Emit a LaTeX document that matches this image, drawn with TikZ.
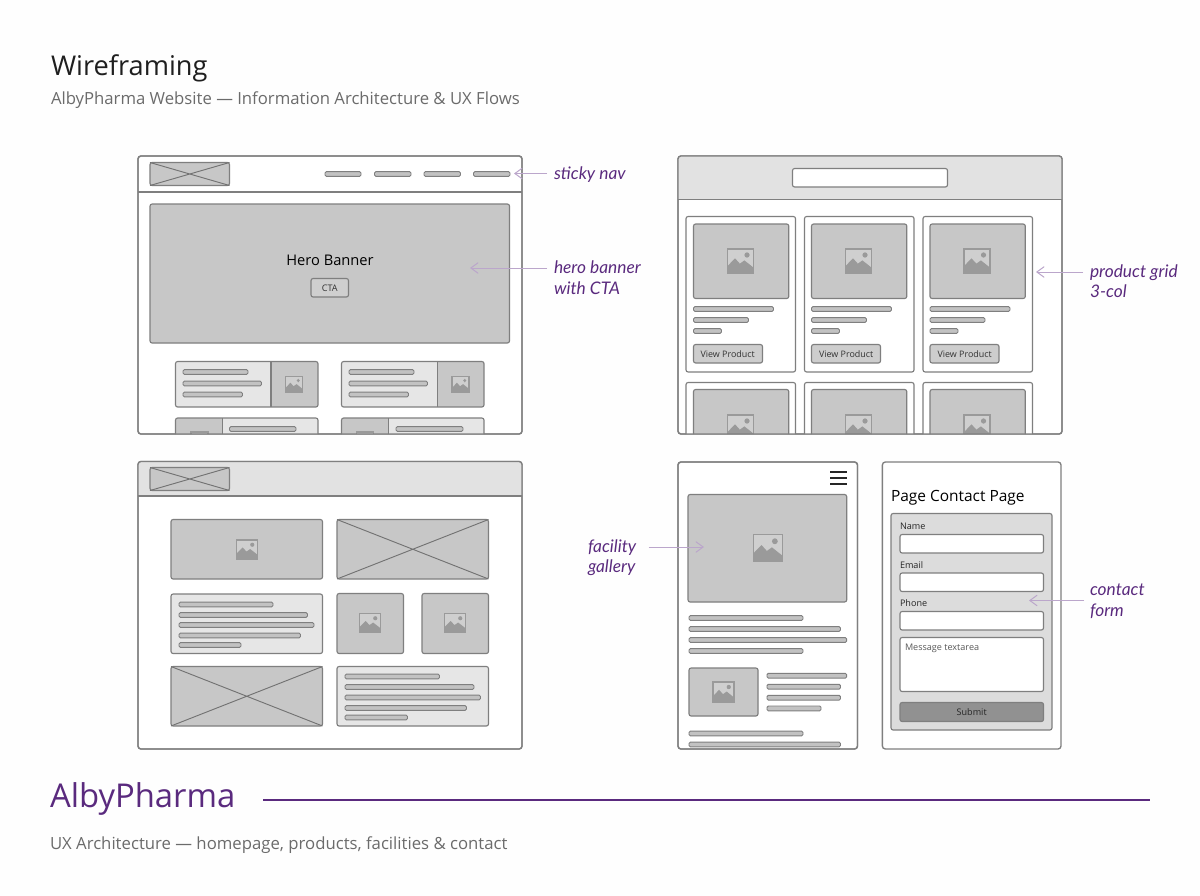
\documentclass[tikz,border=0pt]{standalone}
\usepackage{fontspec}
\setmainfont{Open Sans}
\newfontfamily\handfont{Lato}[ItalicFont=* Italic]
\usetikzlibrary{arrows.meta}
\definecolor{edgec}{HTML}{7F7F7F}
\definecolor{boxc}{HTML}{C7C7C7}
\definecolor{headc}{HTML}{E2E2E2}
\definecolor{cardc}{HTML}{E6E6E6}
\definecolor{formc}{HTML}{DCDCDC}
\definecolor{barc}{HTML}{C2C2C2}
\definecolor{iconc}{HTML}{9A9A9A}
\definecolor{purp}{HTML}{5A2A7E}
\definecolor{arrowc}{HTML}{BBA6CB}
\tikzset{
 frame/.style={draw=edgec,line width=1pt,rounded corners=2.2pt},
 imgbox/.style={draw=edgec,line width=.85pt,fill=boxc,rounded corners=1.6pt},
 headbox/.style={draw=edgec,line width=.85pt,fill=headc},
 cardbox/.style={draw=edgec,line width=.85pt,fill=cardc,rounded corners=1.6pt},
 plainbox/.style={draw=edgec,line width=.85pt,fill=white,rounded corners=1.6pt},
 barbox/.style={draw=edgec,line width=.7pt,fill=barc,rounded corners=1pt},
 xline/.style={draw=edgec!90!black,line width=.7pt},
 txt/.style={inner sep=0pt,outer sep=0pt,anchor=base west,text=#1},
 txt/.default=black,
 ctr/.style={inner sep=0pt,outer sep=0pt,anchor=base,text=#1},
 ctr/.default=black,
 note/.style={inner sep=0pt,outer sep=0pt,anchor=base west,text=purp,font=\handfont\itshape\fontsize{13}{13}\selectfont},
 pointer/.style={draw=arrowc,line width=.75pt,-{Straight Barb[length=5.5pt,width=8pt,line width=.75pt]}},
}
\newcommand\wbar[3]{\path[barbox] (#1,#3-2.4) rectangle (#2,#3+2.4);}
\newcommand\xbox[4]{\path[imgbox] (#1,#2) rectangle (#3,#4);
 \draw[xline] (#1,#2) -- (#3,#4) (#1,#4) -- (#3,#2);}
% card split in two by a straight divider: x1 y1 x2 y2, grey part from x5 to x6, divider at x7
\newcommand\splitcard[7]{%
 \begin{scope}
 \clip[rounded corners=1.6pt] (#1,#2) rectangle (#3,#4);
 \fill[cardc] (#1,#2) rectangle (#3,#4);
 \fill[boxc] (#5,#2) rectangle (#6,#4);
 \end{scope}
 \path[draw=edgec,line width=.85pt,rounded corners=1.6pt] (#1,#2) rectangle (#3,#4);
 \draw[edgec,line width=.85pt] (#7,#2) -- (#7,#4);}
\newcommand\imgicon[4]{%
 \begin{scope}[shift={(#1,#2)},x=#3*0.75pt/2,y=-#4*0.75pt/2]
 \fill[fill=white!15!boxc,draw=iconc,line width=.8pt] (-1,-1) rectangle (1,1);
 \fill[iconc] (-1,1) -- (-1,.42) -- (-.42,-.22) -- (-.05,.22) -- (.3,-.05) -- (1,.55) -- (1,1) -- cycle;
 \fill[iconc] (.5,-.5) circle[x radius=.2,y radius=.22];
 \end{scope}}
\begin{document}
\begin{tikzpicture}[x=0.75pt,y=-0.75pt]
\useasboundingbox (0,0) rectangle (1200,896);
\fill[white!99.5!black] (0,0) rectangle (1200,896);

% titles
\node[txt=black!88,font=\fontsize{20.4}{20.4}\selectfont] (title) at (51,75) {Wireframing};
\node[txt=black!58,font=\fontsize{12.53}{12.53}\selectfont] (subtitle) at (51,104) {AlbyPharma Website — Information Architecture \& UX Flows};

% ---------- frame 1
\path[frame,fill=white] (138,156) rectangle (522,434);
\begin{scope}
\clip[rounded corners=2.2pt] (138,156) rectangle (522,434);
\draw[edgec,line width=1pt] (138,192) -- (522,192);
\xbox{150}{162.5}{229.5}{185.5}
\wbar{325}{361}{174}
\wbar{374.5}{411}{174}
\wbar{424}{460.5}{174}
\wbar{473.5}{510}{174}
\path[imgbox] (150,204) rectangle (509.5,343);
\path[imgbox,fill=boxc!85!white] (311,278.5) rectangle (348.5,297);
% cards row 1
\splitcard{175.5}{361.5}{318}{407}{271}{318}{271}
\wbar{183}{248}{372}\wbar{183}{261.5}{383.5}\wbar{183}{242.5}{394.5}
\imgicon{294}{384.5}{17}{16}
\splitcard{341.5}{361.5}{484}{407}{437.5}{484}{437.5}
\wbar{349}{414}{372}\wbar{349}{427.5}{383.5}\wbar{349}{408.5}{394.5}
\imgicon{460.5}{384.5}{17}{16}
% cards row 2
\splitcard{175.5}{418}{318}{450}{175.5}{222.5}{222.5}
\wbar{229.5}{296}{429}
\imgicon{199.5}{440}{17}{16}
\splitcard{341.5}{418}{484}{450}{341.5}{388.5}{388.5}
\wbar{396}{463}{429}
\imgicon{365}{440}{17}{16}
\end{scope}
\path[frame] (138,156) rectangle (522,434);
\node[ctr,font=\fontsize{11}{11}\selectfont] (hero) at (330,265) {Hero Banner};
\node[ctr=black!80,font=\fontsize{6.8}{6.8}\selectfont] (cta) at (329.7,291.2) {CTA};

% ---------- frame 2
\path[frame,fill=white] (678,156) rectangle (1062,434);
\begin{scope}
\clip[rounded corners=2.2pt] (678,156) rectangle (1062,434);
\path[headbox] (670,150) rectangle (1070,199.5);
\path[plainbox] (792.5,168.5) rectangle (947.5,187);
\foreach \cx/\ix in {686/693.5,804.5/811.5,923/930}{
 \path[plainbox] (\cx,216.5) rectangle (\cx+109.5,372);
 \path[imgbox] (\ix,224) rectangle (\ix+95.3,298.5);
 \imgicon{\ix+47}{261}{26}{24}
 \wbar{\ix}{\ix+80}{309}
 \wbar{\ix}{\ix+55}{320}
 \wbar{\ix}{\ix+28}{331}
 \path[imgbox,fill=boxc!90!white] (\ix,344.5) rectangle (\ix+69,363);
 \path[plainbox] (\cx,382.5) rectangle (\cx+109.5,460);
 \path[imgbox] (\ix,389.5) rectangle (\ix+95.3,460);
 \imgicon{\ix+47}{427}{26}{24}
}
\end{scope}
\path[frame] (678,156) rectangle (1062,434);
\node[ctr=black!80,font=\fontsize{6.7}{6.7}\selectfont] (vp1) at (727.7,357.3) {View Product};
\node[ctr=black!80,font=\fontsize{6.7}{6.7}\selectfont] (vp2) at (846.2,357.3) {View Product};
\node[ctr=black!80,font=\fontsize{6.7}{6.7}\selectfont] (vp3) at (964.7,357.3) {View Product};

% ---------- frame 3
\path[frame,fill=white] (138,461.5) rectangle (522,749);
\begin{scope}
\clip[rounded corners=2.2pt] (138,461.5) rectangle (522,749);
\path[headbox] (130,450) rectangle (530,496);
\xbox{150}{467.5}{229.5}{490.5}
\path[imgbox] (171,519.5) rectangle (322.5,579);
\imgicon{247}{549.5}{21}{19}
\xbox{337}{519.5}{488.5}{579}
\path[cardbox] (171,594) rectangle (322.5,653.5);
\wbar{179}{273}{604.5}\wbar{179}{307.5}{615}\wbar{179}{314}{625}\wbar{179}{300.5}{635.5}\wbar{179}{241}{645}
\path[imgbox] (337,593.5) rectangle (403.5,653.5);
\imgicon{370}{623}{21}{19}
\path[imgbox] (422,593.5) rectangle (488.5,653.5);
\imgicon{455}{623}{21}{19}
\xbox{171}{666.5}{322.5}{726}
\path[cardbox] (337,666.5) rectangle (488.5,726);
\wbar{345}{439.5}{676.5}\wbar{345}{474}{687}\wbar{345}{480.5}{697.5}\wbar{345}{466.5}{708}\wbar{345}{407.5}{717.5}
\end{scope}
\path[frame] (138,461.5) rectangle (522,749);

% ---------- frame 4
\path[frame,fill=white] (678,462) rectangle (857.5,749);
\begin{scope}
\clip[rounded corners=2.2pt] (678,462) rectangle (857.5,749);
\draw[black!85,line width=1.5pt] (830,472) -- (847,472) (830,478) -- (847,478) (830,484) -- (847,484);
\path[imgbox] (688,494.5) rectangle (846.7,602);
\imgicon{767.6}{548}{29}{27}
\wbar{689}{803}{618}\wbar{689}{840.5}{629}\wbar{689}{846.7}{640}\wbar{689}{803}{651}
\path[imgbox] (689,668) rectangle (758,716);
\imgicon{723.5}{692}{21}{20}
\wbar{767}{846.7}{675.7}\wbar{767}{840.5}{686.7}\wbar{767}{840.5}{697.7}\wbar{767}{821}{708.4}
\wbar{689}{803}{733.5}\wbar{689}{840.5}{744.5}
\end{scope}
\path[frame] (678,462) rectangle (857.5,749);

% ---------- frame 5
\path[frame,fill=white] (882.4,462) rectangle (1061,749);
\path[cardbox,fill=formc] (891,513.5) rectangle (1052,730);
\path[plainbox] (900,534.5) rectangle (1043.5,553);
\path[plainbox] (900,573) rectangle (1043.5,591.5);
\path[plainbox] (900,611.5) rectangle (1043.5,630);
\path[plainbox] (900,637.5) rectangle (1043.5,691.5);
\path[cardbox,fill=black!43] (900,702.5) rectangle (1043.5,721.5);
\node[txt,font=\fontsize{11.6}{11.6}\selectfont] (pg) at (891,501.7) {Page Contact Page};
\node[txt=black!85,font=\fontsize{6.8}{6.8}\selectfont] (fname) at (900,529.3) {Name};
\node[txt=black!85,font=\fontsize{6.8}{6.8}\selectfont] (femail) at (900,568) {Email};
\node[txt=black!85,font=\fontsize{6.8}{6.8}\selectfont] (fphone) at (900,606.7) {Phone};
\node[txt=black!65,font=\fontsize{6.8}{6.8}\selectfont] (fmsg) at (905,650.3) {Message textarea};
\node[ctr=black!85,font=\fontsize{6.8}{6.8}\selectfont] (fsub) at (971.7,715.3) {Submit};

% ---------- notes
\node[note] (n1) at (554,179.3) {sticky nav};
\node[note] (n2a) at (554,273.3) {hero banner};
\node[note] (n2b) at (554,294) {with CTA};
\node[note] (n3a) at (1090,277.7) {product grid};
\node[note] (n3b) at (1090,297) {3-col};
\node[note] (n4a) at (588,552.7) {facility};
\node[note] (n4b) at (588,572.7) {gallery};
\node[note] (n5a) at (1090,595.7) {contact};
\node[note] (n5b) at (1090,616.3) {form};
\coordinate (t1) at (547,173.5); \coordinate (h1) at (514,173.5);
\coordinate (t2) at (547,268); \coordinate (h2) at (470,268);
\coordinate (t3) at (1083,272); \coordinate (h3) at (1036,272);
\coordinate (t4) at (648.5,547); \coordinate (h4) at (704,547);
\coordinate (t5) at (1084,600.5); \coordinate (h5) at (1029,600.5);
\draw[pointer] (t1) -- (h1);
\draw[pointer] (t2) -- (h2);
\draw[pointer] (t3) -- (h3);
\draw[pointer] (t4) -- (h4);
\draw[pointer] (t5) -- (h5);

% ---------- footer
\node[txt=purp,font=\fontsize{24.6}{24.6}\selectfont] (brand) at (50,807.7) {AlbyPharma};
\coordinate (ruleA) at (263,800); \coordinate (ruleB) at (1150,800);
\draw[purp,line width=1pt] (ruleA) -- (ruleB);
\node[txt=black!58,font=\fontsize{12.55}{12.55}\selectfont] (foot) at (50,849) {UX Architecture — homepage, products, facilities \& contact};
\end{tikzpicture}
\end{document}
